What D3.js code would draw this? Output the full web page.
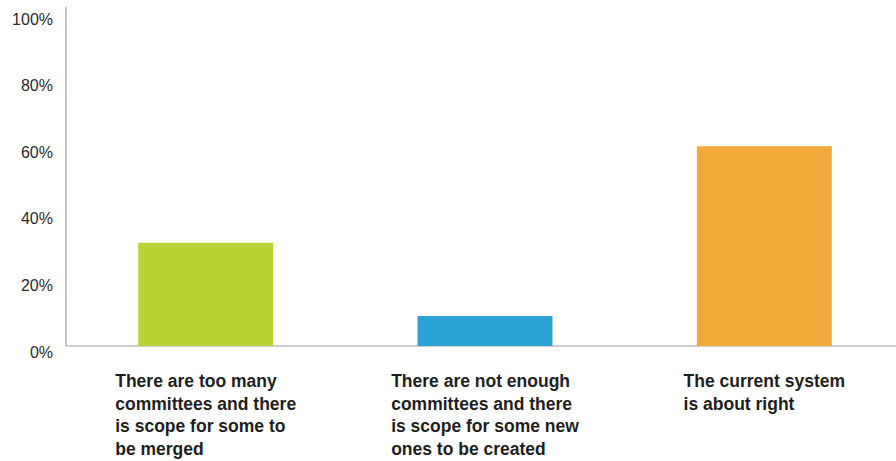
<!DOCTYPE html>
<html>
<head>
<meta charset="utf-8">
<script src="https://cdn.jsdelivr.net/npm/d3@7/dist/d3.min.js"></script>
<style>
  html, body { margin: 0; padding: 0; background: #fff; }
  svg { display: block; }
</style>
</head>
<body>
<svg id="chart" width="896" height="461"></svg>
<script>
const categories = [
  "There are too many committees and there is scope for some to be merged",
  "There are not enough committees and there is scope for some new ones to be created",
  "The current system is about right"
];
const categoryLines = [
  ["There are too many", "committees and there", "is scope for some to", "be merged"],
  ["There are not enough", "committees and there", "is scope for some new", "ones to be created"],
  ["The current system", "is about right"]
];
const values = [31, 9, 60];
const colors = ["#b7d433", "#2ba1d5", "#f4a93b"];
const yTicks = [0, 20, 40, 60, 80, 100];

const svg = d3.select("#chart");
const x = d3.scaleBand().domain(categories).range([66, 904]).paddingInner(0.517).paddingOuter(0.2585);
const y = d3.scaleLinear().domain([0, 100]).range([346, 13]);

// axes lines
svg.append("line").attr("x1", 66).attr("x2", 66).attr("y1", 7).attr("y2", y(0))
  .attr("stroke", "#a0a0a0").attr("stroke-width", 1.2);
svg.append("line").attr("x1", 66).attr("x2", 896).attr("y1", y(0)).attr("y2", y(0))
  .attr("stroke", "#a0a0a0").attr("stroke-width", 1.2);

// y tick labels
const yAxis = d3.axisLeft(y).tickValues(yTicks).tickFormat(d => d + "%").tickSize(0).tickPadding(0);
const gy = svg.append("g").attr("transform", "translate(53,6)").call(yAxis);
gy.select(".domain").remove();
gy.selectAll("text").attr("font-family", "Liberation Sans, Arial, sans-serif")
  .attr("font-size", "16px").attr("fill", "#2a2a2a");

// bars
svg.selectAll("rect.bar").data(values).enter().append("rect")
  .attr("class", "bar")
  .attr("x", (d, i) => x(categories[i]))
  .attr("width", x.bandwidth())
  .attr("y", d => y(d))
  .attr("height", d => y(0) - y(d))
  .attr("fill", (d, i) => colors[i]);

// category labels
categoryLines.forEach((lines, i) => {
  const t = svg.append("text")
    .attr("font-family", "Liberation Sans, Arial, sans-serif")
    .attr("font-size", "17.5px").attr("font-weight", "bold").attr("fill", "#1e1e1e");
  lines.forEach((ln, j) => {
    t.append("tspan").attr("x", 0).attr("y", 387 + j * 22.7).text(ln);
  });
  let maxW = 0;
  t.selectAll("tspan").each(function() { maxW = Math.max(maxW, this.getComputedTextLength()); });
  const cx = x(categories[i]) + x.bandwidth() / 2;
  t.attr("transform", `translate(${cx - maxW / 2},0)`);
});
</script>
</body>
</html>
